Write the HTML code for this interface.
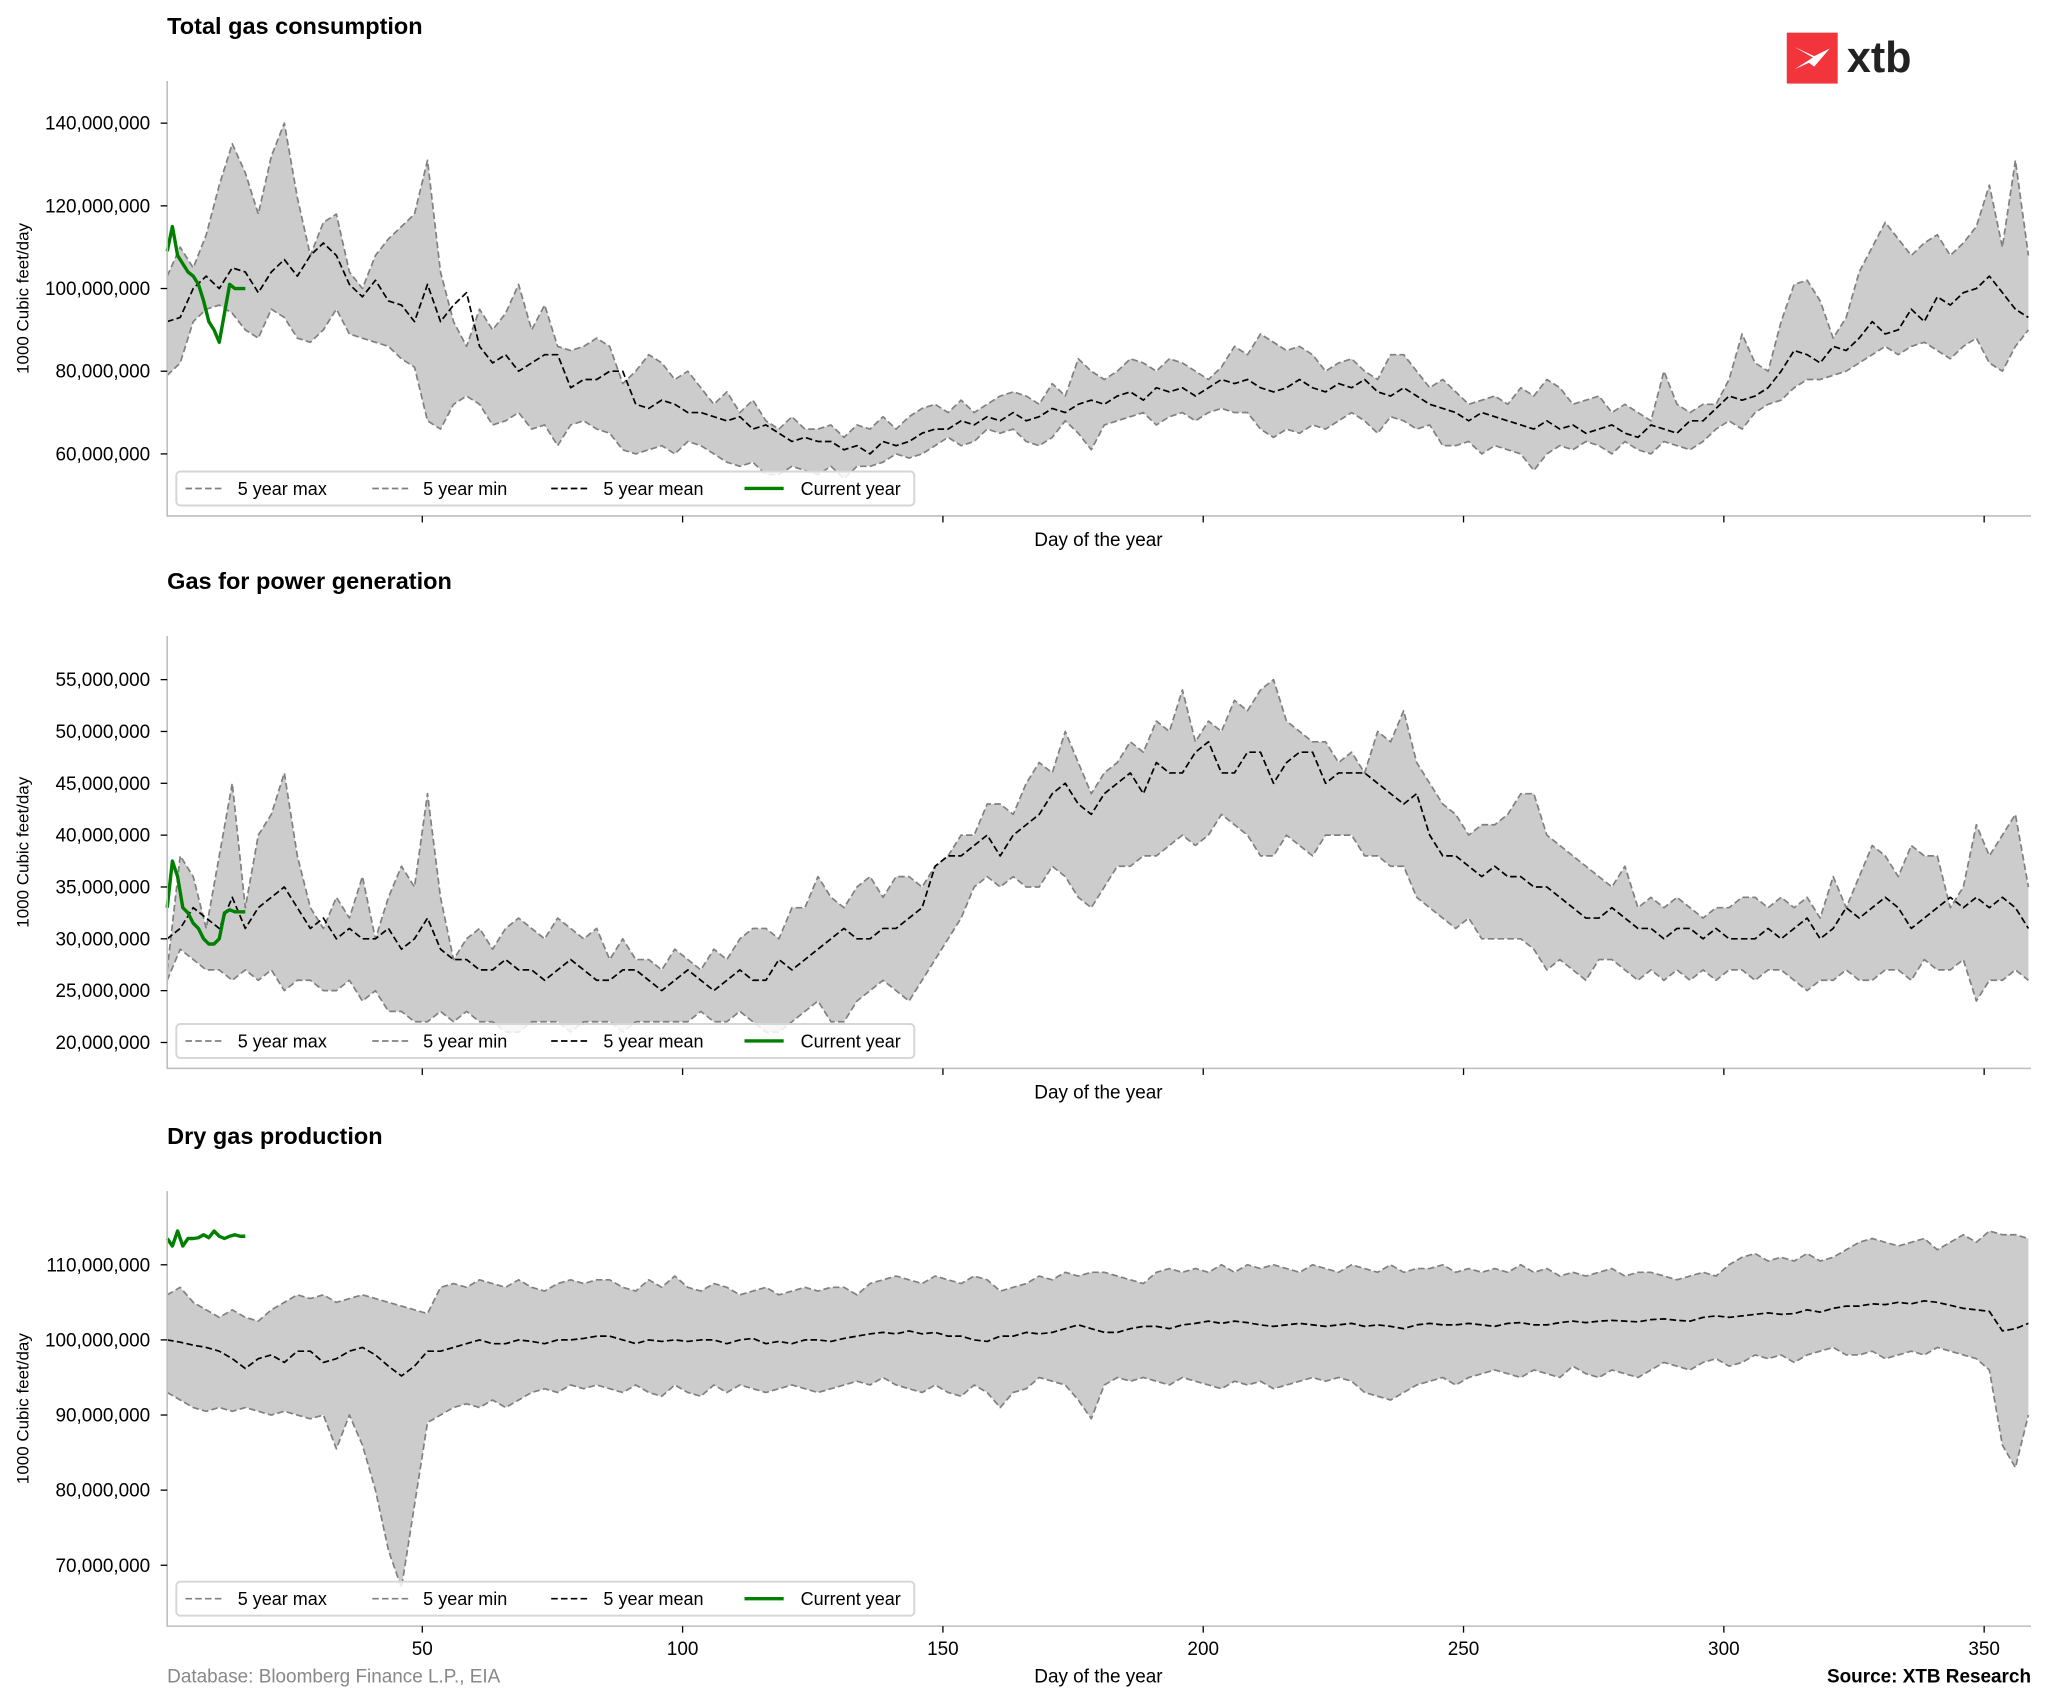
<!DOCTYPE html>
<html><head><meta charset="utf-8"><style>
html,body{margin:0;padding:0;background:#fff;}
svg{display:block;font-family:"Liberation Sans",Arial,sans-serif;}
</style></head><body>
<svg id="chart" width="2048" height="1705" viewBox="0 0 1568 1305.4" xmlns="http://www.w3.org/2000/svg">
<g>
<rect x="1368" y="25" width="39" height="39" fill="#f2353c"/>
<path d="M1374 36 L1388 44 L1374 53 L1385 48 L1389 51 L1401 37 L1389 43 Z" fill="#fff"/>
<text x="1414" y="55" font-size="33" font-weight="bold" fill="#222">xtb</text>
</g>
<text x="128" y="1288" font-size="14.5" fill="#888">Database: Bloomberg Finance L.P., EIA</text>
<text x="1555" y="1288" font-size="14.5" font-weight="bold" text-anchor="end" fill="#000">Source: XTB Research</text>
</svg>
<script>
const xTicks=[50,100,150,200,250,300,350];
const p1Max=[103,110,105,113,125,135,128,118,132,140,122,108,116,118,104,100,108,112,115,118,131,104,92,86,95,90,94,101,90,96,86,85,86,88,86,77,80,84,82,78,80,76,72,75,70,73,68,66,69,66,66,67,64,67,66,69,66,69,71,72,70,73,70,72,74,75,74,72,77,74,83,80,78,80,83,82,80,83,82,80,78,81,86,84,89,87,85,86,84,80,82,83,80,78,84,84,80,76,78,75,72,73,74,72,76,74,78,76,72,73,74,70,72,70,68,80,72,70,72,72,78,89,82,80,92,101,102,97,88,93,104,110,116,112,108,111,113,108,111,115,125,110,131,108];
const p1Min=[79,82,92,95,96,94,90,88,95,93,88,87,90,95,89,88,87,86,83,81,68,66,72,74,72,67,68,70,66,67,62,67,68,66,65,61,60,61,62,60,63,62,60,58,57,58,55,55,57,56,55,57,54,57,57,58,60,59,60,62,64,62,63,66,65,66,63,62,64,68,65,61,67,68,69,70,67,69,70,68,70,71,70,70,66,64,66,65,67,66,68,70,68,65,69,68,66,67,62,62,63,60,62,61,60,56,60,62,61,63,62,60,63,61,60,63,62,61,63,66,68,66,70,72,73,76,78,78,79,80,82,84,86,84,86,87,85,83,86,88,82,80,86,90];
const p1Mean=[92,93,100,103,100,105,104,99,104,107,103,108,111,108,101,98,102,97,96,92,101,92,96,99,86,82,84,80,82,84,84,76,78,78,80,80,72,71,73,72,70,70,69,68,69,66,67,65,63,64,63,63,61,62,60,63,62,63,65,66,66,68,67,69,68,70,68,69,71,70,72,73,72,74,75,73,76,75,76,74,76,78,77,78,76,75,76,78,76,75,77,76,78,75,74,76,74,72,71,70,68,70,69,68,67,66,68,66,67,65,66,67,65,64,67,66,65,68,68,71,74,73,74,76,80,85,84,82,86,85,88,92,89,90,95,92,98,96,99,100,103,99,95,93];
const p1Cur=[109,115,108,106,104,103,101,97,92,90,87,94,101,100,100,100];
const p2Max=[27,38,36,31,38,45,33,40,42,46,38,33,31,34,32,36,30,34,37,35,44,34,28,30,31,29,31,32,31,30,32,31,30,31,28,30,28,28,27,29,28,27,29,28,30,31,31,30,33,33,36,34,33,35,36,34,36,36,35,37,38,40,40,43,43,42,45,47,46,50,47,44,46,47,49,48,51,50,54,49,51,50,53,52,54,55,51,50,49,49,47,48,46,50,49,52,47,45,43,42,40,41,41,42,44,44,40,39,38,37,36,35,37,33,34,33,34,33,32,33,33,34,34,33,34,33,34,32,36,33,36,39,38,36,39,38,38,33,35,41,38,40,42,35];
const p2Min=[26,29,28,27,27,26,27,26,27,25,26,26,25,25,26,24,25,23,23,22,22,23,22,23,22,22,21,21,22,22,22,21,22,22,22,21,22,22,22,22,22,23,22,22,23,22,21,21,22,23,24,22,22,24,25,26,25,24,26,28,30,32,35,36,35,36,35,35,37,36,34,33,35,37,37,38,38,39,40,39,40,42,41,40,38,38,40,39,38,40,40,40,38,38,37,37,34,33,32,31,32,30,30,30,30,29,27,28,27,26,28,28,27,26,27,26,27,26,27,26,27,27,26,27,27,26,25,26,26,27,26,26,27,27,26,28,27,27,28,24,26,26,27,26];
const p2Mean=[30,31,33,32,31,34,31,33,34,35,33,31,32,30,31,30,30,31,29,30,32,29,28,28,27,27,28,27,27,26,27,28,27,26,26,27,27,26,25,26,27,26,25,26,27,26,26,28,27,28,29,30,31,30,30,31,31,32,33,37,38,38,39,40,38,40,41,42,44,45,43,42,44,45,46,44,47,46,46,48,49,46,46,48,48,45,47,48,48,45,46,46,46,45,44,43,44,40,38,38,37,36,37,36,36,35,35,34,33,32,32,33,32,31,31,30,31,31,30,31,30,30,30,31,30,31,32,30,31,33,32,33,34,33,31,32,33,34,33,34,33,34,33,31];
const p2Cur=[33,37.5,36,33,32.5,31.5,31,30,29.5,29.5,30,32.5,32.8,32.6,32.6,32.6];
const p3Max=[106,107,105,104,103,104,103,102.5,104,105,106,105.5,106,105,105.5,106,105.5,105,104.5,104,103.5,107,107.5,107,108,107.5,107,108,107,106.5,107.5,108,107.5,108,108,107,106.5,108,107,108.5,107,106.5,107.5,107,106,106.5,107,106,106.5,107,106.5,107,107,106,107.5,108,108.5,108,107.5,108.5,108,107.5,108.5,108,106.5,107,107.5,108.5,108,109,108.5,109,109,108.5,108,107.5,109,109.5,109,109.5,109,110,109,110,109.5,110,109.5,109,110,109.5,109,110,109.5,109,110,109,109.5,109.5,110,109,109.5,109,109.5,109,110,109,109.5,108.5,109,108.5,109,109.5,108.5,109,109,108.5,108,108.5,109,108.5,110,111,111.5,110.5,111,110.5,111.5,110.5,111,112,113,113.5,113,112.5,113,113.5,112,113,114,113,114.5,114,114,113.5];
const p3Min=[93,92,91,90.5,91,90.5,91,90.5,90,90.5,90,89.5,90,85.5,90,86,80,72,67,78,89,90,91,91.5,91,92,91,92,93,93.5,93,94,93.5,94,93.5,93,94,93,92.5,94,93,92.5,94,93,94,93.5,93,93.5,94,93.5,93,93.5,94,94.5,94,95,94,93.5,93,94,93,92.5,94,93,91,93,93.5,95,94.5,94,92,89.5,94,95,94.5,95,94.5,94,95,94.5,94,93.5,94.5,94,94.5,93.5,94,94.5,95,94.5,95,94.5,93,92.5,92,93,94,94.5,95,94,95,95.5,96,95.5,95,96,95.5,95,96.5,95.5,95,96,95.5,95,96,97,96.5,96,97,97.5,96.5,97,98,97.5,98,97,98,98.5,99,98,98,98.5,97.5,98,98.5,98,99,98.5,98,97.5,96,86,83,90];
const p3Mean=[100,99.7,99.3,99,98.5,97.5,96.2,97.5,98,97,98.5,98.5,97,97.5,98.5,99,98,96.5,95.2,96.5,98.5,98.5,99,99.5,100,99.5,99.5,100,99.8,99.5,100,100,100.2,100.5,100.5,100,99.5,100,99.8,100,99.8,100,100,99.5,100,100.2,99.5,99.8,99.5,100,100,99.8,100.2,100.5,100.8,101,100.8,101.2,100.8,101,100.5,100.5,100,99.8,100.5,100.5,101,100.8,101,101.5,102,101.5,101,101,101.5,101.8,101.8,101.5,102,102.2,102.5,102.2,102.5,102.3,102,101.8,102,102.2,102,101.8,102,102.2,101.8,102,101.8,101.5,102,102.2,102,102,102.2,102,101.8,102.2,102.3,102,102,102.3,102.5,102.3,102.5,102.6,102.5,102.4,102.7,102.8,102.6,102.5,103,103.2,103,103.2,103.4,103.6,103.4,103.5,104,103.7,104.2,104.5,104.5,104.8,104.7,105,104.8,105.2,105,104.6,104.2,104,103.8,101.2,101.5,102.2];
const p3Cur=[113.5,112.5,114.5,112.5,113.5,113.5,113.6,114,113.6,114.5,113.8,113.5,113.8,114,113.8,113.8];

const NS='http://www.w3.org/2000/svg';
const svg=document.getElementById('chart');
function mk(tag,attrs,parent){const e=document.createElementNS(NS,tag);for(const k in attrs)e.setAttribute(k,attrs[k]);(parent||svg).appendChild(e);return e;}
const X0=128,X1=1555,D0=1,D1=359;
function xs(d){return X0+(d-D0)*(X1-X0)/(D1-D0);}
function fmt(v){return Math.round(v*1e6).toLocaleString('en-US');}

function panel(cfg){
  const g=mk('g',{});
  
  
  const ys=v=>cfg.bot-(v-cfg.vmin)*(cfg.bot-cfg.top)/(cfg.vmax-cfg.vmin);
  const dayOf=(i,n)=>1+i*(358.5-1)/(n-1);
  const t=mk('text',{x:128,y:cfg.top-36,'font-size':18,'font-weight':'bold',fill:'#000'},g);
  t.textContent=cfg.title;
  
  
  let pts=cfg.max.map((v,i)=>xs(dayOf(i,cfg.max.length))+','+ys(v));
  let pts2=cfg.min.map((v,i)=>xs(dayOf(i,cfg.min.length))+','+ys(v)).reverse();
  const band=mk('polygon',{points:pts.concat(pts2).join(' '),fill:'#cccccc'},g);
  
  
  const line=(arr,dayf,stroke,w,dash,name)=>{
    const p=mk('polyline',{points:arr.map((v,i)=>xs(dayf(i,arr.length))+','+ys(v)).join(' '),fill:'none',stroke:stroke,'stroke-width':w,'stroke-dasharray':dash,'stroke-linejoin':'round'},g);
    
    
  };
  line(cfg.max,dayOf,'#808080',1.3,'5,2.5','max-line');
  line(cfg.min,dayOf,'#808080',1.3,'5,2.5','min-line');
  line(cfg.mean,dayOf,'#000',1.3,'5,2.5','mean-line');
  line(cfg.cur,(i)=>1+i,'#008000',2.6,'none','current-year-line');
  const ax=mk('path',{d:`M${X0} ${cfg.top} V${cfg.bot} H${X1}`,fill:'none',stroke:'#bdbdbd','stroke-width':1.2},g);
  
  
  cfg.yticks.forEach(v=>{
    const y=ys(v);
    mk('line',{x1:X0-5,x2:X0,y1:y,y2:y,stroke:'#000','stroke-width':1},g);
    const tl=mk('text',{x:X0-13,y:y+5,'font-size':14.5,'text-anchor':'end',fill:'#000'},g);
    tl.textContent=fmt(v);
    
    
  });
  xTicks.forEach(d=>{
    const x=xs(d);
    mk('line',{x1:x,x2:x,y1:cfg.bot,y2:cfg.bot+5,stroke:'#000','stroke-width':1},g);
    if(cfg.labels){
      const tl=mk('text',{x:x,y:cfg.bot+22,'font-size':14.5,'text-anchor':'middle',fill:'#000'},g);
      tl.textContent=d;
      
      
    }
  });
  const xl=mk('text',{x:841,y:cfg.bot+(cfg.labels?43:23),'font-size':14.5,'text-anchor':'middle',fill:'#000'},g);
  xl.textContent='Day of the year';
  
  
  const yc=(cfg.top+cfg.bot)/2;
  const yl=mk('text',{x:0,y:0,'font-size':13,'text-anchor':'middle',fill:'#000',transform:`translate(22,${yc}) rotate(-90)`},g);
  yl.textContent='1000 Cubic feet/day';
  
  
  const ly=cfg.bot-34;
  const lg=mk('g',{},g);
  
  
  mk('rect',{x:135,y:ly,width:565,height:26,rx:3,fill:'#fff','fill-opacity':0.85,stroke:'#d6d6d6','stroke-width':1.5},lg);
  const ents=[['5 year max','#808080','5,2.5',1.3,142,182],['5 year min','#808080','5,2.5',1.3,285,324],['5 year mean','#000','5,2.5',1.3,422,462],['Current year','#008000','none',2.6,570,613]];
  ents.forEach(e=>{
    mk('line',{x1:e[4],x2:e[4]+30,y1:ly+13,y2:ly+13,stroke:e[1],'stroke-width':e[3],'stroke-dasharray':e[2]},lg);
    const tx=mk('text',{x:e[5],y:ly+18,'font-size':13.8,fill:'#000'},lg);
    tx.textContent=e[0];
    
    
  });
}
panel({name:'total-consumption-panel',title:'Total gas consumption',top:62,bot:395,vmin:45,vmax:150.2,yticks:[60,80,100,120,140],max:p1Max,min:p1Min,mean:p1Mean,cur:p1Cur,labels:false});
panel({name:'power-generation-panel',title:'Gas for power generation',top:487,bot:818,vmin:17.5,vmax:59.2,yticks:[20,25,30,35,40,45,50,55],max:p2Max,min:p2Min,mean:p2Mean,cur:p2Cur,labels:false});
panel({name:'dry-gas-production-panel',title:'Dry gas production',top:912,bot:1245,vmin:61.9,vmax:119.8,yticks:[70,80,90,100,110],max:p3Max,min:p3Min,mean:p3Mean,cur:p3Cur,labels:true});
</script>
</body></html>
